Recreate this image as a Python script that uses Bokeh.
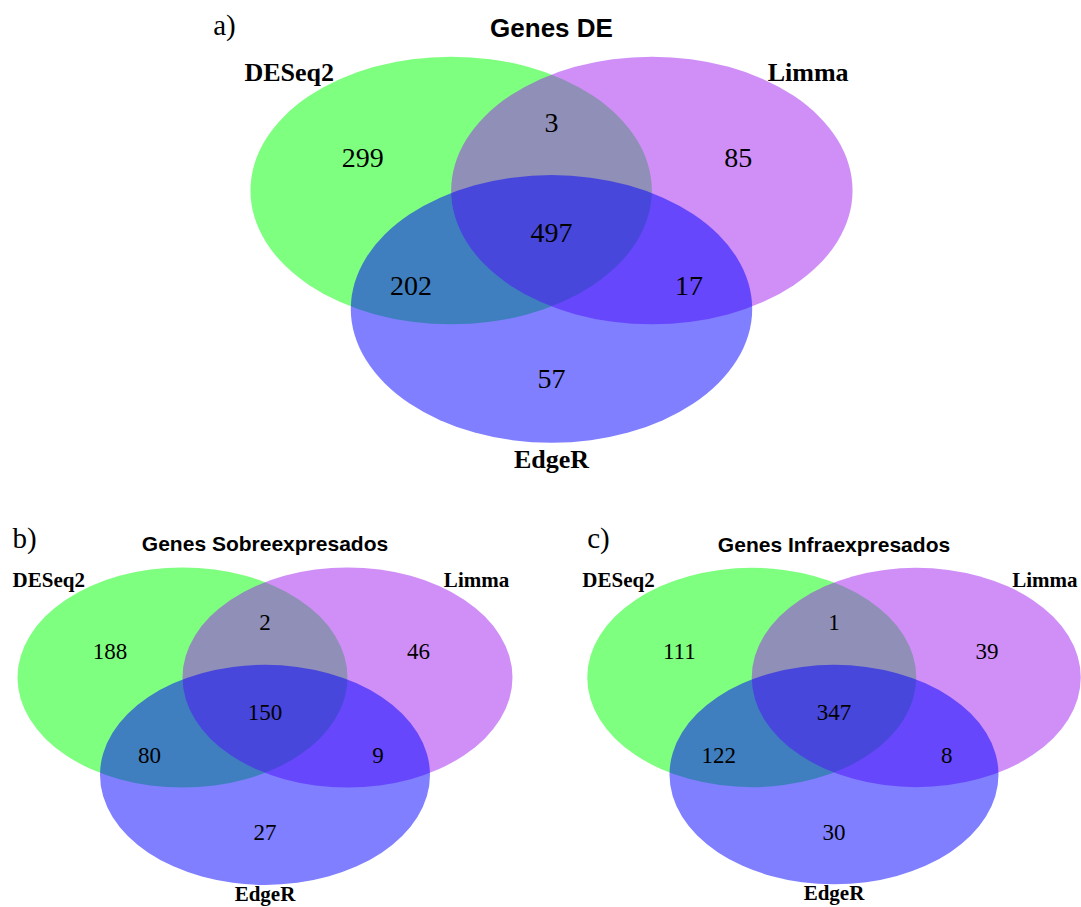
from bokeh.plotting import figure
from bokeh.models import Range1d, ColumnDataSource
from bokeh.core.properties import value
from bokeh.embed import file_html
from bokeh.resources import INLINE

W, H = 1081, 907

# --- data -------------------------------------------------------------
set_names = ["DESeq2", "Limma", "EdgeR"]
set_colors = ["#00FF00", "#A020F0", "#0000FF"]

# region order: only DESeq2, only Limma, only EdgeR,
#               DESeq2&Limma, DESeq2&EdgeR, Limma&EdgeR, all three
region_keys = ["D", "L", "E", "DL", "DE", "LE", "DLE"]
de_counts = [299, 85, 57, 3, 202, 17, 497]
up_counts = [188, 46, 27, 2, 80, 9, 150]
down_counts = [111, 39, 30, 1, 122, 8, 347]

panel_titles = ["Genes DE", "Genes Sobreexpresados", "Genes Infraexpresados"]
panel_tags = ["a)", "b)", "c)"]
panel_counts = [de_counts, up_counts, down_counts]

# --- geometry of a 3-set Venn in units of the ellipse semi-major axis ---
ELL_RY = 0.667
set_centers = [(-0.5, 0.0), (0.5, 0.0), (0.0, -0.59)]
region_pos = {
    "D": (-0.94, 0.16), "L": (0.93, 0.16), "E": (0.0, -0.94),
    "DL": (0.0, 0.335), "DE": (-0.70, -0.475), "LE": (0.685, -0.475),
    "DLE": (0.0, -0.21),
}

# panel placement on the page: centre (x, y from top) and scale in px
panels = [(551.0, 190.0, 200.7), (264.5, 677.0, 165.0), (833.5, 677.0, 164.5)]
tag_pos = [(224, 24), (24, 537), (598, 537)]
bottom_label_drop = [1.34, 1.312, 1.312]

p = figure(width=W, height=H, x_range=Range1d(0, W), y_range=Range1d(0, H),
           output_backend="svg", toolbar_location=None, min_border=0)
p.axis.visible = False
p.grid.visible = False
p.outline_line_color = None
p.background_fill_color = "white"
p.border_fill_color = "white"

serif = value("Liberation Serif")
sans = value("Liberation Sans")

for (cx, cy, s), counts, title, tag, (tx, ty), drop in zip(
        panels, panel_counts, panel_titles, panel_tags, tag_pos,
        bottom_label_drop):
    yc = H - cy

    # ellipses, drawn in order so the translucent fills mix
    for (ux, uy), col in zip(set_centers, set_colors):
        p.ellipse(x=[cx + ux * s], y=[yc + uy * s], width=[2 * s],
                  height=[2 * ELL_RY * s], fill_color=col, fill_alpha=0.5,
                  line_color=None)

    # region counts
    src = ColumnDataSource(dict(
        x=[cx + region_pos[k][0] * s for k in region_keys],
        y=[yc + region_pos[k][1] * s for k in region_keys],
        t=[str(c) for c in counts],
    ))
    p.text(x="x", y="y", text="t", source=src, text_font=serif,
           text_font_size=f"{round(0.14 * s)}px", text_align="center",
           text_baseline="middle", text_color="black")

    lab_size = f"{round(0.128 * s)}px"
    # set labels
    p.text(x=[cx - 1.53 * s], y=[yc + 0.59 * s], text=[set_names[0]],
           text_font=serif, text_font_style="bold", text_font_size=lab_size,
           text_align="left", text_baseline="middle", text_color="black")
    p.text(x=[cx + 1.48 * s], y=[yc + 0.59 * s], text=[set_names[1]],
           text_font=serif, text_font_style="bold", text_font_size=lab_size,
           text_align="right", text_baseline="middle", text_color="black")
    p.text(x=[cx], y=[yc - drop * s], text=[set_names[2]],
           text_font=serif, text_font_style="bold", text_font_size=lab_size,
           text_align="center", text_baseline="middle", text_color="black")

    # title
    p.text(x=[cx], y=[yc + 0.81 * s], text=[title], text_font=sans,
           text_font_style="bold", text_font_size=f"{round(0.13 * s)}px",
           text_align="center", text_baseline="middle", text_color="black")

    # panel tag
    p.text(x=[tx], y=[H - ty], text=[tag], text_font=serif,
           text_font_size="29px", text_align="center",
           text_baseline="middle", text_color="black")

open("out.html", "w").write(file_html(p, INLINE))
